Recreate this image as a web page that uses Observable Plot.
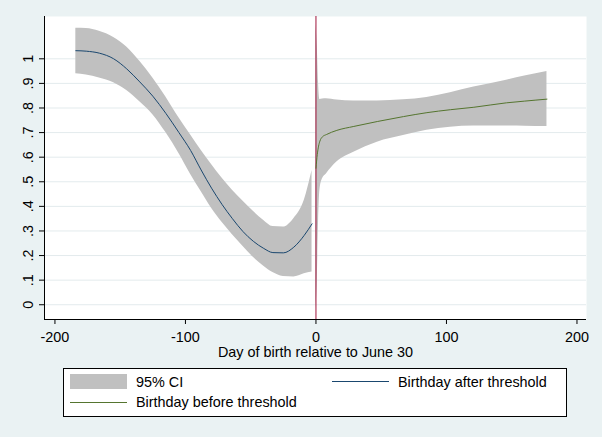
<!DOCTYPE html>
<html>
<head>
<meta charset="utf-8">
<script src="https://cdn.jsdelivr.net/npm/d3@7"></script>
<script src="https://cdn.jsdelivr.net/npm/@observablehq/plot@0.6"></script>
<style>
  body { margin: 0; background: #eaf2f3; font-family: "Liberation Sans", Arial, sans-serif; }
  #wrap { position: relative; width: 602px; height: 437px; background: #eaf2f3; overflow: hidden; }
  #chart svg { display: block; }
  #legend { position: absolute; left: 63px; top: 368px; width: 502px; height: 47px; border: 1px solid #000; background: #fff; font-size: 14.4px; color: #000; }
  #legend .it { position: absolute; line-height: 14.4px; white-space: nowrap; }
  #legend .sw { position: absolute; }
</style>
</head>
<body>
<div id="wrap">
  <div id="chart"></div>
  <div id="legend"></div>
</div>
<script>
// ---- data ----
const xTicks = [-200, -100, 0, 100, 200];
const yTicks = [0, 0.1, 0.2, 0.3, 0.4, 0.5, 0.6, 0.7, 0.8, 0.9, 1];
const yTickLabels = ["0", ".1", ".2", ".3", ".4", ".5", ".6", ".7", ".8", ".9", "1"];
const xLabel = "Day of birth relative to June 30";

// days before the threshold (x < 0)
const beforeX    = [-184, -176, -166, -155, -145, -135, -125, -115, -105, -96, -88, -80, -72, -64, -56, -48, -40, -33, -25, -17, -9, -3];
const beforeFit  = [1.033, 1.031, 1.023, 1.000, 0.959, 0.906, 0.848, 0.778, 0.700, 0.627, 0.548, 0.474, 0.408, 0.350, 0.298, 0.258, 0.229, 0.212, 0.211, 0.234, 0.282, 0.329];
const beforeHigh = [1.124, 1.123, 1.112, 1.087, 1.048, 0.990, 0.922, 0.845, 0.760, 0.690, 0.628, 0.570, 0.515, 0.466, 0.422, 0.380, 0.343, 0.318, 0.316, 0.350, 0.424, 0.546];
const beforeLow  = [0.939, 0.934, 0.922, 0.903, 0.871, 0.825, 0.773, 0.700, 0.615, 0.530, 0.460, 0.392, 0.335, 0.285, 0.238, 0.193, 0.157, 0.131, 0.115, 0.113, 0.126, 0.133];

// days after the threshold (x >= 0)
const afterX    = [0, 1, 2, 3, 5, 8, 16, 29, 47, 67, 85, 103, 121, 146, 160, 177];
const afterFit  = [0.555, 0.610, 0.645, 0.665, 0.683, 0.692, 0.709, 0.725, 0.745, 0.765, 0.781, 0.793, 0.803, 0.821, 0.828, 0.836];
const afterHigh = [1.140, 1.050, 0.900, 0.835, 0.837, 0.838, 0.832, 0.828, 0.828, 0.833, 0.843, 0.862, 0.885, 0.913, 0.930, 0.948];
const afterLow  = [-0.020, 0.100, 0.340, 0.465, 0.512, 0.532, 0.580, 0.620, 0.661, 0.688, 0.709, 0.722, 0.727, 0.727, 0.726, 0.725];

const legendItems = ["95% CI", "Birthday after threshold", "Birthday before threshold"];

// ---- build tables ----
const before = beforeX.map((x, i) => ({x, fit: beforeFit[i], hi: beforeHigh[i], lo: beforeLow[i]}));
const after = afterX.map((x, i) => ({x, fit: afterFit[i], hi: afterHigh[i], lo: afterLow[i]}));

const xDomain = [-208, 207.3];
const yDomain = [-0.060, 1.172];

const chart = Plot.plot({
  width: 602,
  height: 362,
  marginLeft: 44,
  marginRight: 16,
  marginTop: 16,
  marginBottom: 43,
  x: {domain: xDomain},
  y: {domain: yDomain},
  style: {background: "transparent", fontFamily: "Liberation Sans, Arial, sans-serif", fontSize: "14.4px", color: "#000"},
  marks: [
    Plot.frame({fill: "white", stroke: null}),
    Plot.ruleY(yTicks, {stroke: "#e3ebed", strokeWidth: 1}),
    Plot.areaY(before, {x: "x", y1: "lo", y2: "hi", fill: "#c0c0c0", curve: "monotone-x"}),
    Plot.areaY(after, {x: "x", y1: "lo", y2: "hi", fill: "#c0c0c0", curve: "monotone-x"}),
    Plot.ruleX([0], {stroke: "#a0153c", strokeWidth: 1}),
    Plot.line(before, {x: "x", y: "fit", stroke: "#1a476f", strokeWidth: 1, curve: "monotone-x"}),
    Plot.line(after, {x: "x", y: "fit", stroke: "#55752f", strokeWidth: 1, curve: "monotone-x"}),
    Plot.ruleX([xDomain[0]], {stroke: "#000"}),
    Plot.ruleY([yDomain[0]], {stroke: "#000"}),
    Plot.axisX({ticks: xTicks, tickSize: 5, tickPadding: 7, fontSize: 14.4, label: null, tickFormat: d => String(d)}),
    Plot.axisY({ticks: yTicks, tickSize: 5, tickFormat: () => "", label: null}),
    Plot.text(yTicks, {y: d => d, text: (d, i) => yTickLabels[i], frameAnchor: "left", rotate: -90, textAnchor: "middle", lineAnchor: "bottom", dx: -12, fontSize: 14.4, fill: "#000"}),
    Plot.text([xLabel], {text: d => d, frameAnchor: "bottom", lineAnchor: "bottom", dy: 37, fontSize: 14.4, fill: "#000"})
  ]
});
document.getElementById("chart").appendChild(chart);

// ---- legend ----
const lg = document.getElementById("legend");
lg.innerHTML = `
  <div class="sw" style="left:6px;top:5px;width:57px;height:15px;background:#c0c0c0"></div>
  <div class="it" style="left:72px;top:5.5px">${legendItems[0]}</div>
  <div class="sw" style="left:268px;top:12px;width:57px;height:0;border-top:1px solid #1a476f"></div>
  <div class="it" style="left:334px;top:5.5px">${legendItems[1]}</div>
  <div class="sw" style="left:6px;top:33px;width:57px;height:0;border-top:1px solid #55752f"></div>
  <div class="it" style="left:72px;top:26px">${legendItems[2]}</div>
`;
</script>
</body>
</html>
